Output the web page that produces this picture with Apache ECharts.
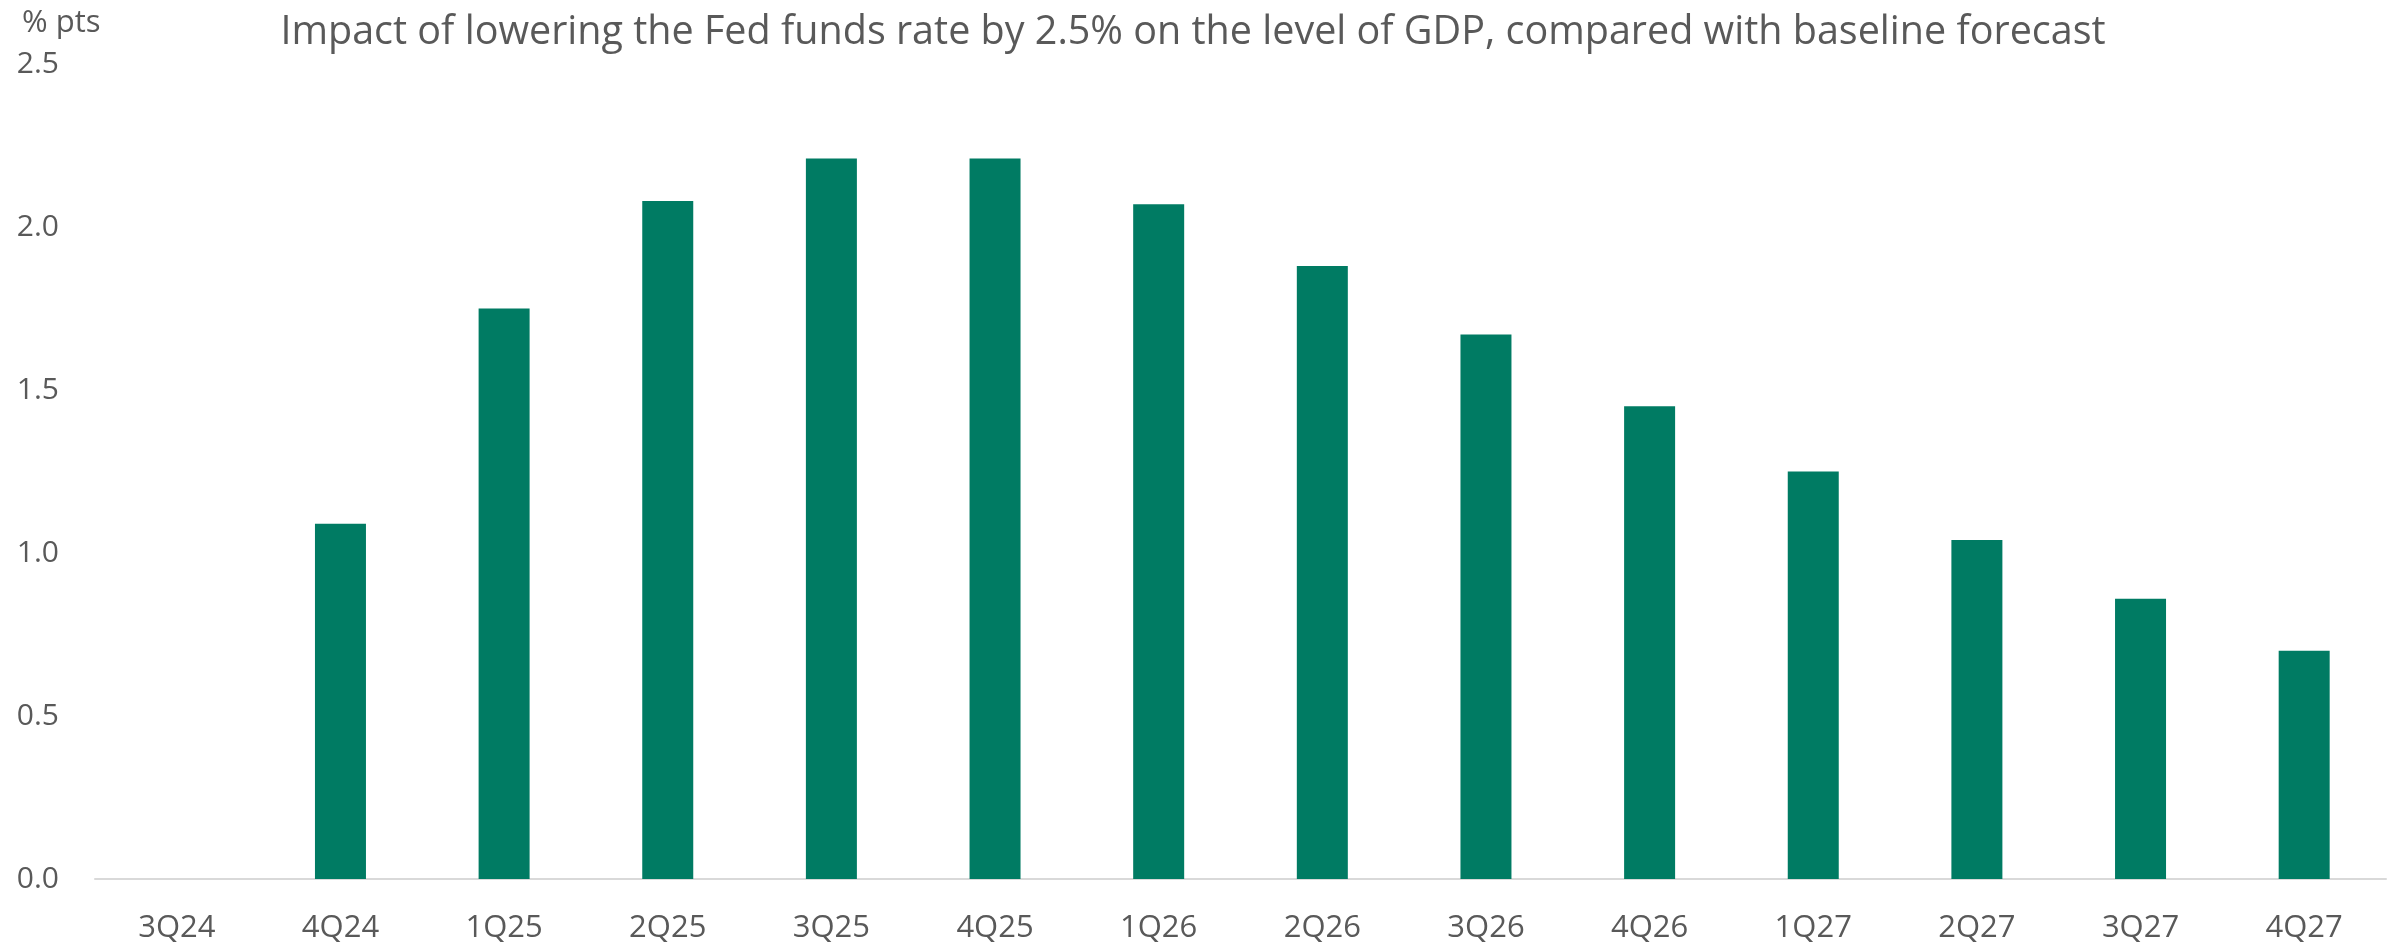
<!DOCTYPE html>
<html>
<head>
<meta charset="utf-8">
<script src="https://cdn.jsdelivr.net/npm/echarts@6/dist/echarts.min.js"></script>
<style>
html,body{margin:0;padding:0;background:#fff;}
#chart{width:2394px;height:948px;}
</style>
</head>
<body>
<div id="chart"></div>
<script>
const categories = ['3Q24','4Q24','1Q25','2Q25','3Q25','4Q25','1Q26','2Q26','3Q26','4Q26','1Q27','2Q27','3Q27','4Q27'];
const impactValues = [0, 1.09, 1.75, 2.08, 2.21, 2.21, 2.07, 1.88, 1.67, 1.45, 1.25, 1.04, 0.86, 0.70];
const yTicks = { min: 0, max: 2.5, interval: 0.5 };
const titleText = 'Impact of lowering the Fed funds rate by 2.5% on the level of GDP, compared with baseline forecast';
const unitText = '% pts';

const FONT = 'Open Sans';
const TEXT = '#595959';
const chart = echarts.init(document.getElementById('chart'), null, { renderer: 'canvas' });
chart.setOption({
  animation: false,
  backgroundColor: '#ffffff',
  title: [
    { text: titleText, left: 1188, top: 8, textAlign: 'center',
      textStyle: { fontFamily: FONT, fontSize: 39.5, fontWeight: 'normal', color: TEXT } },
    { text: unitText, left: 17, top: 3,
      textStyle: { fontFamily: FONT, fontSize: 31, fontWeight: 'normal', color: TEXT } }
  ],
  grid: { left: 95, right: 8, top: 64, bottom: 69, containLabel: false },
  xAxis: {
    type: 'category',
    data: categories,
    axisLine: { show: true, lineStyle: { color: '#D9D9D9', width: 2 } },
    axisTick: { show: false },
    axisLabel: { fontFamily: FONT, fontSize: 31, color: TEXT, margin: 34 }
  },
  yAxis: {
    type: 'value',
    min: yTicks.min, max: yTicks.max, interval: yTicks.interval,
    axisLine: { show: false },
    axisTick: { show: false },
    splitLine: { show: false },
    axisLabel: { fontFamily: FONT, fontSize: 30, color: TEXT, margin: 36,
      padding: [6, 0, 0, 0],
      formatter: v => v.toFixed(1) }
  },
  series: [{
    type: 'bar',
    data: impactValues,
    barWidth: 51,
    itemStyle: { color: '#007B63' }
  }]
});
</script>
</body>
</html>
